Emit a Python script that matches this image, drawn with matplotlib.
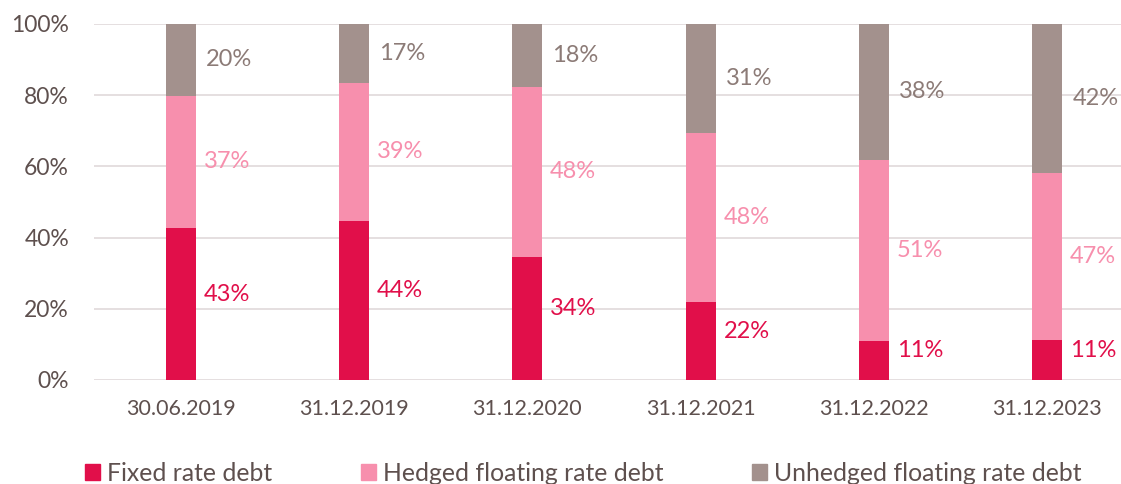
import matplotlib
matplotlib.use("Agg")
import matplotlib.pyplot as plt
import numpy as np
from matplotlib.patches import Patch

categories = ["30.06.2019", "31.12.2019", "31.12.2020", "31.12.2021", "31.12.2022", "31.12.2023"]
fixed = [42.7, 44.7, 34.6, 21.9, 11.0, 11.2]
hedged = [37.1, 38.7, 47.7, 47.5, 50.8, 46.9]
unhedged = [20.2, 16.6, 17.7, 30.6, 38.2, 41.9]
fixed_labels = ["43%", "44%", "34%", "22%", "11%", "11%"]
hedged_labels = ["37%", "39%", "48%", "48%", "51%", "47%"]
unhedged_labels = ["20%", "17%", "18%", "31%", "38%", "42%"]
series_names = ["Fixed rate debt", "Hedged floating rate debt", "Unhedged floating rate debt"]

c_fixed = "#e10f4a"
c_hedged = "#f78fad"
c_unhedged = "#a3918d"
c_unhedged_lbl = "#8c7b77"
c_text = "#5e504e"
c_grid = "#e3dcdd"

plt.rcParams['font.family'] = ['Lato', 'DejaVu Sans']

W, H = 1121, 484
fig = plt.figure(figsize=(W / 100, H / 100), dpi=100)
left, right = 94, 1134
bottom, top = 380, 24
ax = fig.add_axes([left / W, (H - bottom) / H, (right - left) / W, (bottom - top) / H])

x = np.arange(len(categories))
bw = 0.173
f = np.array(fixed)
h = np.array(hedged)
u = np.array(unhedged)
ax.bar(x, f, bw, color=c_fixed, zorder=3)
ax.bar(x, h, bw, bottom=f, color=c_hedged, zorder=3)
ax.bar(x, u, bw, bottom=f + h, color=c_unhedged, zorder=3)

dx = 16.5
for i in range(len(categories)):
    ax.annotate(fixed_labels[i], (x[i], f[i] / 2), xytext=(dx, 7), textcoords="offset points",
                color=c_fixed, fontsize=17, va="center", ha="left")
    ax.annotate(hedged_labels[i], (x[i], f[i] + h[i] / 2), xytext=(dx, 0), textcoords="offset points",
                color=c_hedged, fontsize=17, va="center", ha="left")
    ax.annotate(unhedged_labels[i], (x[i], f[i] + h[i] + u[i] / 2), xytext=(dx + 1.5, 0), textcoords="offset points",
                color=c_unhedged_lbl, fontsize=17, va="center", ha="left")

ax.set_xlim(-0.5, len(categories) - 0.5)
ax.set_ylim(0, 100)
ax.set_yticks(np.arange(0, 101, 20))
ax.set_yticklabels([f"{v}%" for v in range(0, 101, 20)])
ax.set_xticks(x)
ax.set_xticklabels(categories)
ax.tick_params(axis="both", length=0, colors=c_text)
ax.tick_params(axis="x", pad=14, labelsize=15.5)
ax.tick_params(axis="y", pad=18, labelsize=16.5)
ax.grid(axis="y", color=c_grid, linewidth=1.3, zorder=0)
for s in ax.spines.values():
    s.set_visible(False)

handles = [Patch(color=c_fixed), Patch(color=c_hedged), Patch(color=c_unhedged)]
fig.legend(handles, series_names, loc="center left", bbox_to_anchor=(85 / W, 1 - 473.5 / H),
           ncol=3, frameon=False, fontsize=17.8, handlelength=0.62, handleheight=0.62,
           handletextpad=0.28, columnspacing=3.58, labelcolor=c_text,
           borderaxespad=0, borderpad=0)

fig.savefig("out.png", dpi=100)
